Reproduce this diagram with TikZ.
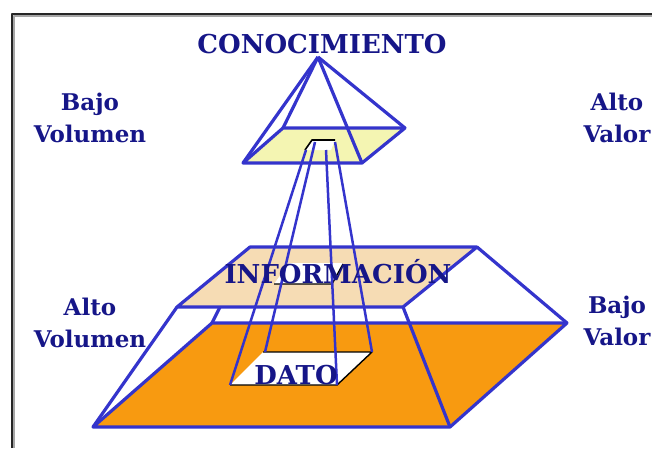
\documentclass[tikz,border=0pt]{standalone}
\usepackage{fontspec}
\setmainfont{DejaVu Serif}
\usetikzlibrary{positioning}
\definecolor{edgeblue}{RGB}{52,52,204}
\definecolor{textnavy}{RGB}{22,22,136}
\definecolor{orangefill}{RGB}{248,154,16}
\definecolor{tanfill}{RGB}{246,220,180}
\definecolor{yellowfill}{RGB}{244,245,178}
\tikzset{every path/.style={edgeblue,line width=3.2pt,line join=round},
         big/.style={textnavy,font=\bfseries\fontsize{26}{30}\selectfont,inner sep=0pt},
         side/.style={textnavy,font=\bfseries\fontsize{23}{32}\selectfont,align=center,inner sep=0pt},
         beam/.style={edgeblue,line width=2.5pt}}

\begin{document}
\begin{tikzpicture}[x=1pt,y=-1pt]
   \useasboundingbox (0,0) rectangle (652,448);
   \draw[black!35,line width=1.2pt] ( 14,448) -- ( 14, 16) -- (652, 16);
   \draw[black!85,line width=1.6pt] ( 12,448) -- ( 12, 14) -- (652, 14);

   \draw[fill=orangefill] ( 93,427) -- (450,427) -- (567,323) -- (212,323) -- cycle;
   \draw (177,307) -- ( 93,427);
   \draw (403,307) -- (450,427);
   \draw (477,247) -- (567,323);
   \draw (250,247) -- (212,323);

   \fill[white] (230,385) -- (337,385) -- (372,352) -- (263,352) -- cycle;
   \draw[black,line width=1.4pt] (230,385) -- (337,385) -- (372,352) -- (263,352);

   \draw[fill=tanfill] (177,307) -- (403,307) -- (477,247) -- (250,247) -- cycle;
   \fill[white] (274,284) -- (332,284) -- (343,263) -- (289,263) -- cycle;
   \draw[black,line width=1.4pt] (274,284) -- (332,284) -- (343,264);

   \draw[fill=yellowfill] (243,163) -- (362,163) -- (405,128) -- (283,128) -- cycle;
   \draw (318,57) -- (243,163);
   \draw (318,57) -- (362,163);
   \draw (318,57) -- (405,128);
   \draw (318,57) -- (283,128);
   \fill[white] (305,150) -- (331,150) -- (335,140) -- (312,140) -- cycle;
   \draw[black,line width=1.6pt] (305,150) -- (312,140) -- (335,140);

   \draw[beam] (306,150) -- (230,385);
   \draw[beam] (315,142) -- (265,352);
   \draw[beam] (326,150) -- (337,385);
   \draw[beam] (335,142) -- (372,352);

   \node[big]  (conoc) at (322, 44) {CONOCIMIENTO};
   \node[big]  (infor) at (338,272) {INFORMACIÓN};
   \node[big]  (dato)  at (296,375) {DATO};
   \node[side] (bajovol) at ( 90,118) {Bajo\\Volumen};
   \node[side] (altoval) at (617,118) {Alto\\Valor};
   \node[side] (altovol) at ( 90,323) {Alto\\Volumen};
   \node[side] (bajoval) at (617,321) {Bajo\\Valor};
\end{tikzpicture}
\end{document}
